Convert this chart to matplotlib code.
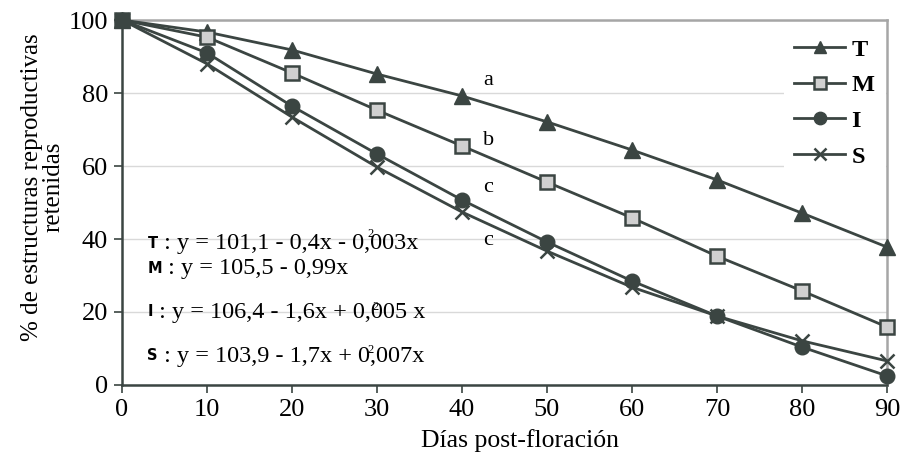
import matplotlib.pyplot as plt

# Data
dias = [0, 10, 20, 30, 40, 50, 60, 70, 80, 90]
serie_T = [100, 96.7, 91.8, 85.2, 79.2, 72.1, 64.4, 56.2, 47.1, 37.8]
serie_M = [100, 95.3, 85.5, 75.3, 65.5, 55.6, 45.8, 35.3, 25.8, 15.9]
serie_I = [100, 91.0, 76.4, 63.3, 50.7, 39.2, 28.5, 18.9, 10.4, 2.5]
serie_S = [100, 88.0, 73.4, 59.7, 47.4, 36.7, 26.8, 18.9, 12.1, 6.6]

letras = ["a", "b", "c", "c"]
letras_y = [83.3, 67.0, 54.2, 39.7]

eq_nombres = ["T", "M", "I", "S"]
eq_textos = [" : y = 101,1 - 0,4x - 0,003x", " : y = 105,5 - 0,99x",
             " : y = 106,4 - 1,6x + 0,005 x", " : y = 103,9 - 1,7x + 0,007x"]
eq_y = [38.9, 32.0, 20.0, 8.0]

plt.rcParams['font.family'] = ['Liberation Serif', 'DejaVu Serif']
oscuro = '#3b4542'

fig = plt.figure(figsize=(9.01, 4.58), dpi=100)
ax = fig.add_axes([0.1354, 0.1594, 0.849, 0.7969])

ax.plot(dias, serie_T, color=oscuro, lw=2, marker='^', ms=11, mfc=oscuro, mec=oscuro, label='T', clip_on=False, zorder=3)
ax.plot(dias, serie_M, color=oscuro, lw=2, marker='s', ms=10, mfc='#d0d0d0', mec=oscuro, mew=1.8, label='M', clip_on=False, zorder=3)
ax.plot(dias, serie_I, color=oscuro, lw=2, marker='o', ms=10.5, mfc=oscuro, mec=oscuro, label='I', clip_on=False, zorder=3)
ax.plot(dias, serie_S, color=oscuro, lw=2, marker='x', ms=10, mew=1.8, mec=oscuro, label='S', clip_on=False, zorder=3)

ax.set_xlim(0, 90)
ax.set_ylim(0, 100)
ax.set_xticks(dias)
ax.set_yticks([0, 20, 40, 60, 80, 100])
ax.tick_params(labelsize=19, direction='out', length=6, width=1.2, color=oscuro, pad=4)
ax.yaxis.grid(True, color='#d9d9d9', lw=1)
ax.set_axisbelow(True)

for s in ['left', 'bottom']:
    ax.spines[s].set_color(oscuro)
    ax.spines[s].set_linewidth(1.8)
for s in ['top', 'right']:
    ax.spines[s].set_color('#a6a6a6')
    ax.spines[s].set_linewidth(1.8)

ax.set_xlabel('Días post-floración', fontsize=18.5)
ax.xaxis.label.set_va('center')
ax.xaxis.set_label_coords(0.52, -0.152)
ax.set_ylabel('% de estructuras reproductivas\nretenidas', fontsize=18, linespacing=0.95)
ax.yaxis.label.set_va('center')
ax.yaxis.set_label_coords(-0.104, 0.542)

for letra, yy in zip(letras, letras_y):
    ax.text(42.5, yy, letra, fontsize=16, ha='left', va='center')

for nombre, txt, yy in zip(eq_nombres, eq_textos, eq_y):
    t = ax.text(3.0, yy, nombre, fontsize=10.5, fontweight='bold', family='DejaVu Sans', va='center', ha='left')
    ax.annotate(txt, xy=(1, 0.45), xycoords=t, fontsize=17.5, va='center', ha='left')

# misplaced squared exponents as in the original
for xx, yy in [(29.3, 41.3), (29.8, 21.3), (29.2, 9.6)]:
    ax.text(xx, yy, '2', fontsize=9, ha='center', va='center')

leg = ax.legend(loc='upper right', bbox_to_anchor=(1.014, 1.012), frameon=True, fancybox=False,
                edgecolor='none', facecolor='white', framealpha=1, handlelength=2.1,
                labelspacing=0.56, borderpad=0.45, handletextpad=0.25, markerscale=0.85,
                prop={'size': 17.5, 'weight': 'bold'})
leg.set_zorder(2.4)  # keep spines visible above the legend box

fig.savefig('out.png', dpi=100)
